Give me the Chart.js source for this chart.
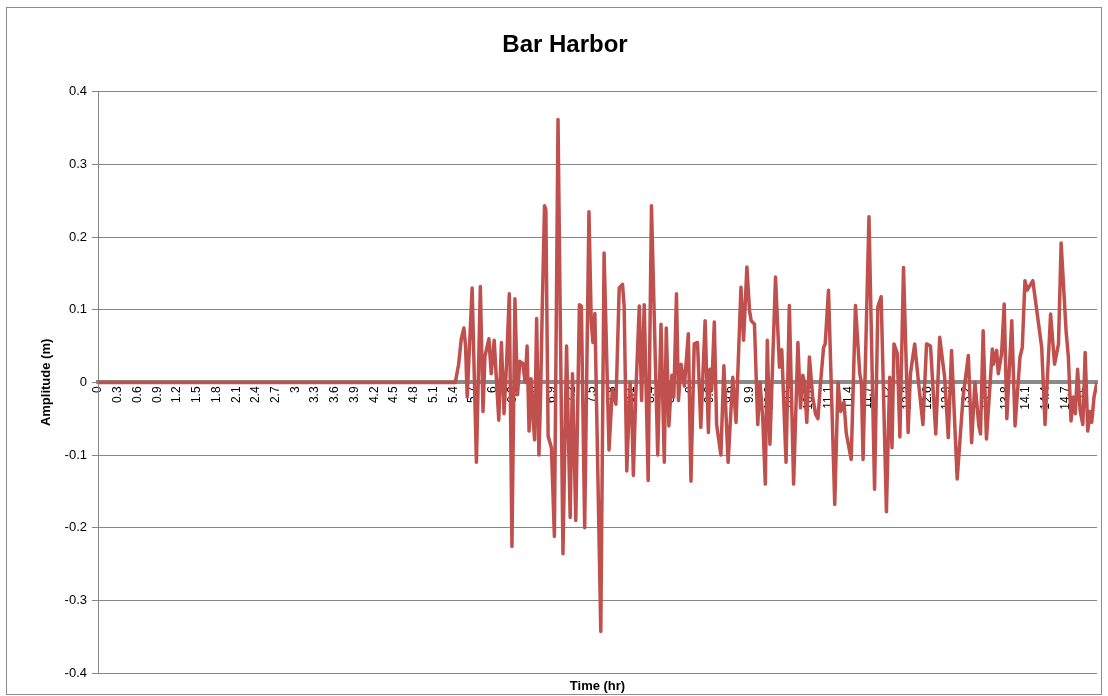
<!DOCTYPE html>
<html lang="en">
<head>
    <meta charset="UTF-8">
    <title>Bar Harbor</title>
    <script src="https://cdn.jsdelivr.net/npm/chart.js"></script>
    <style>
        html, body {
            margin: 0;
            padding: 0;
            background: #ffffff;
            overflow: hidden;
        }
        canvas {
            display: block;
        }
    </style>
</head>
<body>
    <canvas id="tideChart" width="1108" height="696"></canvas>

    <script>
        // Time (hr) of each vertex of the red curve
        const timeHr = [
            0, 5.43, 5.48, 5.52, 5.56, 5.585, 5.61, 5.685, 5.75, 5.81,
            5.85, 5.88, 5.94, 5.975, 6.02, 6.09, 6.13, 6.17, 6.21, 6.25,
            6.29, 6.335, 6.375, 6.41, 6.455, 6.49, 6.52, 6.55, 6.58, 6.61,
            6.635, 6.665, 6.70, 6.725, 6.75, 6.785, 6.805, 6.84, 6.89, 6.935,
            6.99, 7.065, 7.12, 7.175, 7.21, 7.26, 7.315, 7.345, 7.395, 7.46,
            7.495, 7.52, 7.55, 7.64, 7.69, 7.765, 7.815, 7.87, 7.92, 7.97,
            7.995, 8.035, 8.085, 8.105, 8.135, 8.17, 8.225, 8.26, 8.30, 8.36,
            8.41, 8.505, 8.555, 8.605, 8.635, 8.675, 8.72, 8.75, 8.79, 8.82,
            8.86, 8.91, 8.97, 9.01, 9.06, 9.11, 9.16, 9.225, 9.275, 9.30,
            9.325, 9.365, 9.40, 9.465, 9.51, 9.575, 9.645, 9.695, 9.77, 9.81,
            9.86, 9.90, 9.925, 9.975, 10.025, 10.06, 10.10, 10.14, 10.17, 10.21,
            10.295, 10.355, 10.39, 10.455, 10.505, 10.57, 10.635, 10.675, 10.71, 10.735,
            10.77, 10.81, 10.86, 10.905, 10.94, 10.975, 11.025, 11.05, 11.10, 11.195,
            11.245, 11.285, 11.335, 11.37, 11.445, 11.51, 11.575, 11.60, 11.625, 11.715,
            11.80, 11.85, 11.90, 11.98, 12.03, 12.065, 12.095, 12.145, 12.185, 12.24,
            12.31, 12.345, 12.41, 12.46, 12.535, 12.59, 12.65, 12.73, 12.79, 12.865,
            12.92, 12.97, 13.055, 13.145, 13.225, 13.275, 13.325, 13.385, 13.41, 13.45,
            13.50, 13.59, 13.605, 13.655, 13.68, 13.73, 13.77, 13.81, 13.885, 13.935,
            14.01, 14.045, 14.085, 14.12, 14.205, 14.265, 14.34, 14.39, 14.475, 14.535,
            14.595, 14.635, 14.71, 14.745, 14.785, 14.82, 14.85, 14.885, 14.925, 14.965,
            15.0, 15.04, 15.075, 15.10, 15.135, 15.18
        ];

        // Amplitude (m) at each vertex
        const amplitude = [
            0, 0, 0.025, 0.06, 0.075, 0.05, -0.02, 0.13, -0.11, 0.132,
            -0.04, 0.036, 0.06, 0.012, 0.058, -0.052, 0.055, -0.043, 0.03, 0.122,
            -0.226, 0.115, -0.017, 0.029, 0.026, 0, 0.05, -0.067, 0.005, -0.05,
            -0.079, 0.088, -0.1, -0.02, 0.1, 0.243, 0.238, -0.074, -0.09, -0.212,
            0.362, -0.236, 0.05, -0.186, 0.012, -0.19, 0.107, 0.105, -0.2, 0.235,
            0.083, 0.055, 0.095, -0.343, 0.178, -0.093, -0.01, -0.03, 0.13, 0.135,
            0.105, -0.122, 0.0, -0.02, -0.128, -0.02, 0.105, -0.025, 0.107, -0.135,
            0.243, -0.1, 0.08, -0.11, 0.075, -0.06, 0.01, -0.02, 0.122, -0.025,
            0.025, -0.005, 0.067, -0.136, 0.053, 0.055, -0.062, 0.085, -0.069, 0.018,
            -0.01, 0.083, -0.058, -0.1, 0.023, -0.11, 0.007, -0.055, 0.131, 0.058,
            0.159, 0.099, 0.085, 0.08, -0.058, 0.0, -0.048, -0.14, 0.058, -0.085,
            0.145, 0.021, 0.045, -0.11, 0.106, -0.14, 0.055, -0.035, 0.01, 0.0,
            -0.055, 0.035, -0.02, -0.044, -0.05, -0.005, 0.048, 0.053, 0.127, -0.168,
            0.0, -0.04, -0.027, -0.07, -0.106, 0.106, 0.012, 0.0, -0.106, 0.228,
            -0.147, 0.104, 0.118, -0.178, 0.007, -0.09, 0.053, 0.04, -0.075, 0.158,
            -0.069, 0.012, 0.053, 0.007, -0.058, 0.053, 0.05, -0.071, 0.062, 0.007,
            -0.076, 0.044, -0.133, -0.02, 0.037, -0.083, 0.0, -0.06, -0.071, 0.071,
            -0.078, 0.046, 0.025, 0.044, 0.012, 0.039, 0.108, -0.05, 0.085, -0.06,
            0.035, 0.048, 0.14, 0.127, 0.14, 0.099, 0.048, -0.058, 0.094, 0.025,
            0.053, 0.192, 0.071, 0.035, -0.053, -0.02, -0.043, 0.018, -0.04, -0.058,
            0.041, -0.067, -0.04, -0.055, -0.02, 0.0
        ];

        // Labels along the zero line
        const timeTicks = [
            0, 0.3, 0.6, 0.9, 1.2, 1.5, 1.8, 2.1, 2.4, 2.7,
            3, 3.3, 3.6, 3.9, 4.2, 4.5, 4.8, 5.1, 5.4, 5.7,
            6, 6.3, 6.6, 6.9, 7.2, 7.5, 7.8, 8.1, 8.4, 8.7,
            9, 9.3, 9.6, 9.9, 10.2, 10.5, 10.8, 11.1, 11.4, 11.7,
            12, 12.3, 12.6, 12.9, 13.2, 13.5, 13.8, 14.1, 14.4, 14.7,
            15
        ];

        const FONT = "'Liberation Sans', Arial, sans-serif";
        const GRID = '#868686';

        // white page with the thin grey frame round it
        const frame = {
            id: 'frame',
            afterLayout(chart) {
                // title sits a little right of the page centre in the original
                const tb = chart.titleBlock;
                if (tb) {
                    tb.left += 26;
                    tb.width = tb.right - tb.left;
                }
            },
            beforeDraw(chart) {
                const ctx = chart.ctx;
                ctx.save();
                ctx.fillStyle = '#ffffff';
                ctx.fillRect(0, 0, chart.width, chart.height);
                ctx.strokeStyle = '#8c8c8c';
                ctx.lineWidth = 1;
                ctx.strokeRect(6.5, 7.5, 1095, 687);
                ctx.restore();
            }
        };

        const config = {
            type: 'line',
            data: {
                datasets: [{
                    label: 'Bar Harbor',
                    data: timeHr.map((t, i) => ({ x: t, y: amplitude[i] })),
                    borderColor: '#C0504D',
                    borderWidth: 3.5,
                    pointRadius: 0,
                    tension: 0,
                    borderJoinStyle: 'round',
                    xAxisID: 'x',
                    yAxisID: 'y'
                }]
            },
            options: {
                responsive: false,
                animation: false,
                layout: { padding: { left: 7, right: 11, top: 8, bottom: 0 } },
                plugins: {
                    legend: { display: false },
                    tooltip: { enabled: false },
                    title: {
                        display: true,
                        text: 'Bar Harbor',
                        color: '#000000',
                        font: { family: FONT, size: 24, weight: 'bold' },
                        padding: { top: 23, bottom: 32 }
                    }
                },
                scales: {
                    x: {
                        type: 'linear',
                        position: 'bottom',
                        min: 0,
                        max: 15.18,
                        grid: { display: false, drawTicks: false },
                        border: { display: false },
                        ticks: { display: false },
                        title: {
                            display: true,
                            text: 'Time (hr)',
                            color: '#000000',
                            font: { family: FONT, size: 13, weight: 'bold' },
                            padding: { top: 0, bottom: 2 }
                        },
                        afterFit(scale) { scale.height = 23; }
                    },
                    xz: {
                        type: 'linear',
                        axis: 'x',
                        position: { y: 0 },
                        min: 0,
                        max: 15.18,
                        grid: { display: false, drawTicks: false },
                        border: { display: true, color: '#8a8a8a', width: 4 },
                        afterBuildTicks(scale) {
                            scale.ticks = timeTicks.map(v => ({ value: v }));
                        },
                        ticks: {
                            autoSkip: false,
                            maxRotation: 90,
                            minRotation: 90,
                            padding: 4,
                            color: '#000000',
                            font: { family: FONT, size: 12 },
                            callback: (value) => String(value)
                        }
                    },
                    y: {
                        type: 'linear',
                        position: 'left',
                        min: -0.4,
                        max: 0.4,
                        ticks: {
                            stepSize: 0.1,
                            padding: 5,
                            color: '#000000',
                            font: { family: FONT, size: 13 }
                        },
                        grid: { color: GRID, lineWidth: 1, tickLength: 6 },
                        border: { display: true, color: GRID, width: 1 },
                        title: {
                            display: true,
                            text: 'Amplitude (m)',
                            color: '#000000',
                            font: { family: FONT, size: 13, weight: 'bold' },
                            padding: { top: 32, bottom: 0 }
                        },
                        afterFit(scale) { scale.width = 91; }
                    }
                }
            },
            plugins: [frame]
        };

        const ctx = document.getElementById('tideChart').getContext('2d');
        const tideChart = new Chart(ctx, config);
    </script>
</body>
</html>
